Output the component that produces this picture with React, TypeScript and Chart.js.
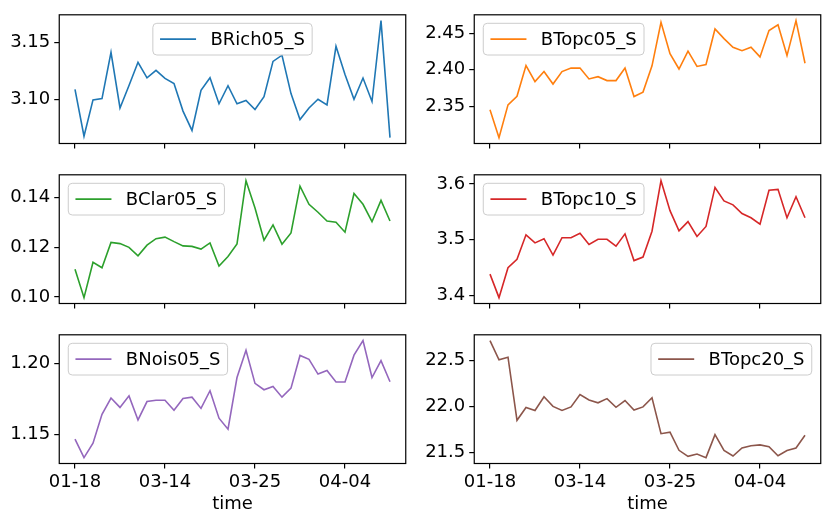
import { useEffect, useRef } from "react"
import Chart from "chart.js/auto"
import type { Plugin } from "chart.js"

// x categories (only every 10th one is labelled)
const DATES = [
  "01-18", "03-04", "03-05", "03-06", "03-07", "03-08", "03-09", "03-10", "03-11", "03-13",
  "03-14", "03-15", "03-16", "03-17", "03-18", "03-19", "03-20", "03-21", "03-22", "03-24",
  "03-25", "03-26", "03-27", "03-28", "03-29", "03-30", "03-31", "04-01", "04-02", "04-03",
  "04-04", "04-05", "04-06", "04-07", "04-08", "04-09",
]
const X_TICKS = [0, 10, 20, 30]

const BRICH05_S = [3.1088, 3.0673, 3.0994, 3.1006, 3.1415, 3.0923, 3.1122, 3.1327, 3.119, 3.1256, 3.1185, 3.114, 3.0895, 3.0724, 3.108, 3.119, 3.096, 3.112, 3.096, 3.0989, 3.0909, 3.1023, 3.1335, 3.139, 3.105, 3.082, 3.0923, 3.1, 3.095, 3.1469, 3.122, 3.1, 3.1188, 3.098, 3.1696, 3.066]
const BTOPC05_S = [2.3452, 2.307, 2.3518, 2.3636, 2.4057, 2.3838, 2.3974, 2.3803, 2.3974, 2.4022, 2.4022, 2.3873, 2.3904, 2.3851, 2.3851, 2.4022, 2.3632, 2.3693, 2.4053, 2.4649, 2.4219, 2.4009, 2.4254, 2.4044, 2.407, 2.4557, 2.4425, 2.4307, 2.4259, 2.4307, 2.4175, 2.4535, 2.4614, 2.4193, 2.4671, 2.4088]
const BCLAR05_S = [0.1111, 0.0997, 0.1139, 0.1117, 0.1219, 0.1214, 0.1199, 0.1165, 0.1208, 0.1234, 0.124, 0.1222, 0.1205, 0.1203, 0.1192, 0.1217, 0.1124, 0.1162, 0.1213, 0.1467, 0.1357, 0.1228, 0.1289, 0.1212, 0.1257, 0.1445, 0.1372, 0.134, 0.1305, 0.13, 0.126, 0.1415, 0.1372, 0.1302, 0.1388, 0.1305]
const BTOPC10_S = [3.438, 3.3957, 3.4496, 3.4646, 3.5087, 3.4942, 3.5017, 3.4722, 3.5035, 3.5035, 3.5116, 3.4913, 3.5006, 3.5006, 3.4884, 3.5104, 3.4623, 3.4687, 3.5151, 3.6061, 3.5522, 3.5157, 3.5325, 3.5058, 3.5238, 3.5939, 3.5696, 3.5626, 3.547, 3.5394, 3.5278, 3.5887, 3.5904, 3.5394, 3.5771, 3.5394]
const BNOIS05_S = [1.1466, 1.1336, 1.1437, 1.164, 1.1755, 1.1689, 1.177, 1.1601, 1.173, 1.1739, 1.1739, 1.1669, 1.1752, 1.1761, 1.1682, 1.1806, 1.1613, 1.1536, 1.1899, 1.209, 1.1858, 1.1813, 1.1836, 1.1761, 1.1824, 1.2054, 1.2027, 1.1923, 1.1948, 1.1867, 1.1867, 1.2056, 1.2158, 1.1899, 1.2018, 1.1869]
const BTOPC20_S = [22.719, 22.51, 22.538, 21.851, 21.99, 21.958, 22.108, 22.003, 21.958, 21.997, 22.132, 22.073, 22.042, 22.087, 21.993, 22.066, 21.962, 21.997, 22.097, 21.705, 21.722, 21.524, 21.458, 21.483, 21.444, 21.694, 21.524, 21.462, 21.549, 21.573, 21.583, 21.563, 21.465, 21.521, 21.549, 21.688]

const BRICH05_TICKS = [3.10, 3.15]
const BRICH05_LABELS = ["3.10", "3.15"]
const BTOPC05_TICKS = [2.35, 2.40, 2.45]
const BTOPC05_LABELS = ["2.35", "2.40", "2.45"]
const BCLAR05_TICKS = [0.10, 0.12, 0.14]
const BCLAR05_LABELS = ["0.10", "0.12", "0.14"]
const BTOPC10_TICKS = [3.4, 3.5, 3.6]
const BTOPC10_LABELS = ["3.4", "3.5", "3.6"]
const BNOIS05_TICKS = [1.15, 1.20]
const BNOIS05_LABELS = ["1.15", "1.20"]
const BTOPC20_TICKS = [21.5, 22.0, 22.5]
const BTOPC20_LABELS = ["21.5", "22.0", "22.5"]

const FONT_FAMILY = "'DejaVu Sans', sans-serif"
const FONT = { family: FONT_FAMILY, size: 18 }

type LegendLoc = "center" | "left" | "right"

// matplotlib-like box spines + legend inside the axes
const frameLegend: Plugin<"line"> = {
  id: "frameLegend",
  afterDraw(chart, _args, opts: any) {
    const { ctx, chartArea: a } = chart
    ctx.save()
    ctx.strokeStyle = "#000"
    ctx.lineWidth = 1.2
    ctx.strokeRect(a.left, a.top, a.right - a.left, a.bottom - a.top)

    ctx.font = `18px ${FONT_FAMILY}`
    const tw = ctx.measureText(opts.label).width
    const w = 7.2 + 36 + 14.4 + tw + 7.2
    const h = 31.7
    const x = opts.loc === "left" ? a.left + 9 : opts.loc === "right" ? a.right - 9 - w : (a.left + a.right - w) / 2
    const y = a.top + 8.5
    ctx.beginPath()
    ctx.roundRect(x, y, w, h, 4)
    ctx.fillStyle = "rgba(255,255,255,0.8)"
    ctx.fill()
    ctx.strokeStyle = "#cccccc"
    ctx.lineWidth = 1
    ctx.stroke()

    ctx.beginPath()
    ctx.moveTo(x + 7.2, y + h / 2)
    ctx.lineTo(x + 43.2, y + h / 2)
    ctx.strokeStyle = opts.color
    ctx.lineWidth = 1.6
    ctx.stroke()

    ctx.fillStyle = "#000"
    ctx.textBaseline = "middle"
    ctx.fillText(opts.label, x + 57.6, y + h / 2 + 1)
    ctx.restore()
  },
}

interface PanelProps {
  label: string
  values: number[]
  color: string
  yTicks: number[]
  yLabels: string[]
  loc: LegendLoc
  showX: boolean
  left: number
  top: number
  width: number
  height: number
  padRight: number
  xHeight: number
}

function Panel({ label, values, color, yTicks, yLabels, loc, showX, left, top, width, height, padRight, xHeight }: PanelProps) {
  const canvasRef = useRef<HTMLCanvasElement>(null)

  useEffect(() => {
    if (!canvasRef.current) return
    Chart.getChart(canvasRef.current)?.destroy()

    const lo = Math.min(...values)
    const hi = Math.max(...values)
    const m = (hi - lo) * 0.05
    const n = values.length - 1

    const chart = new Chart(canvasRef.current, {
      type: "line",
      data: {
        datasets: [{
          label,
          data: values.map((v, i) => ({ x: i, y: v })),
          borderColor: color,
          borderWidth: 1.6,
          pointRadius: 0,
          tension: 0,
          fill: false,
        }],
      },
      plugins: [frameLegend],
      options: {
        animation: false,
        responsive: false,
        maintainAspectRatio: false,
        events: [],
        layout: { padding: { top: 10.7, right: padRight, left: 0, bottom: 0 } },
        plugins: {
          legend: { display: false },
          tooltip: { enabled: false },
          // @ts-ignore
          frameLegend: { label, color, loc },
        },
        scales: {
          x: {
            type: "linear",
            min: -n * 0.05,
            max: n * 1.05,
            afterBuildTicks: s => { s.ticks = X_TICKS.map(v => ({ value: v })) },
            afterFit: s => { s.height = xHeight },
            ticks: {
              callback: v => (showX ? DATES[Number(v)] : ""),
              font: FONT,
              color: "#000",
              padding: 3,
              maxRotation: 0,
              autoSkip: false,
            },
            grid: { drawOnChartArea: false, drawTicks: true, tickLength: 5, color: "#000", lineWidth: 1.2 },
            border: { display: false },
            title: { display: showX, text: "time", font: FONT, color: "#000", padding: { top: 0, bottom: 9 } },
          },
          y: {
            type: "linear",
            min: lo - m,
            max: hi + m,
            afterBuildTicks: s => { s.ticks = yTicks.map(v => ({ value: v })) },
            afterFit: s => { s.width = 59.25 },
            ticks: { callback: (_v, i) => yLabels[i], font: FONT, color: "#000", padding: 4 },
            grid: { drawOnChartArea: false, drawTicks: true, tickLength: 5, color: "#000", lineWidth: 1.2 },
            border: { display: false },
          },
        },
      },
    })

    return () => { chart.destroy() }
  }, [label, values, color, yTicks, yLabels, loc, showX, padRight, xHeight])

  return (
    <canvas
      ref={canvasRef}
      width={width}
      height={height}
      style={{ position: "absolute", left, top, width, height }}
    />
  )
}

export default function App() {
  const col1 = { left: 0, width: 415, padRight: 9.25 }
  const col2 = { left: 415, width: 416, padRight: 10.25 }
  const row1 = { top: 0, height: 160, xHeight: 16.5, showX: false }
  const row2 = { top: 160, height: 160, xHeight: 16.5, showX: false }
  const row3 = { top: 320, height: 204, xHeight: 60.5, showX: true }

  return (
    <div style={{ position: "absolute", left: 0, top: 0, width: 831, height: 524, background: "#fff" }}>
      <Panel label="BRich05_S" values={BRICH05_S} color="#1f77b4" yTicks={BRICH05_TICKS} yLabels={BRICH05_LABELS} loc="center" {...col1} {...row1} />
      <Panel label="BTopc05_S" values={BTOPC05_S} color="#ff7f0e" yTicks={BTOPC05_TICKS} yLabels={BTOPC05_LABELS} loc="left" {...col2} {...row1} />
      <Panel label="BClar05_S" values={BCLAR05_S} color="#2ca02c" yTicks={BCLAR05_TICKS} yLabels={BCLAR05_LABELS} loc="left" {...col1} {...row2} />
      <Panel label="BTopc10_S" values={BTOPC10_S} color="#d62728" yTicks={BTOPC10_TICKS} yLabels={BTOPC10_LABELS} loc="left" {...col2} {...row2} />
      <Panel label="BNois05_S" values={BNOIS05_S} color="#9467bd" yTicks={BNOIS05_TICKS} yLabels={BNOIS05_LABELS} loc="left" {...col1} {...row3} />
      <Panel label="BTopc20_S" values={BTOPC20_S} color="#8c564b" yTicks={BTOPC20_TICKS} yLabels={BTOPC20_LABELS} loc="right" {...col2} {...row3} />
    </div>
  )
}
